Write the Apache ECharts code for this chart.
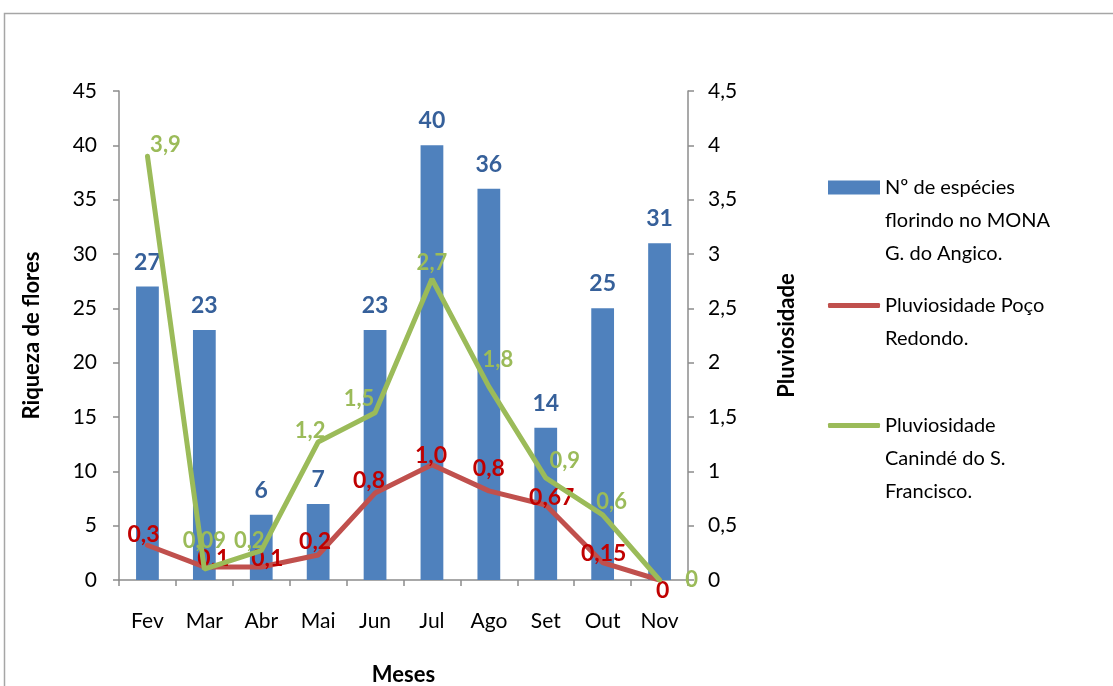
<!DOCTYPE html>
<html>
<head>
<meta charset="utf-8">
<script src="https://cdn.jsdelivr.net/npm/echarts@6/dist/echarts.min.js"></script>
<style>
html,body{margin:0;padding:0;background:#fff;}
#chart{width:1113px;height:686px;}
</style>
</head>
<body>
<div id="chart"></div>
<script>
// ---- data ----
const months = ['Fev','Mar','Abr','Mai','Jun','Jul','Ago','Set','Out','Nov'];
const especies = [27, 23, 6, 7, 23, 40, 36, 14, 25, 31];
const pocoRedondo = [0.32, 0.12, 0.12, 0.23, 0.80, 1.06, 0.82, 0.69, 0.16, 0];
const pocoRedondoLabels = ['0,3','0,1','0,1','0,2','0,8','1,0','0,8','0,67','0,15','0'];
const caninde = [3.9, 0.10, 0.27, 1.27, 1.54, 2.77, 1.78, 0.94, 0.60, 0];
const canindeLabels = ['3,9','0,09','0,2','1,2','1,5','2,7','1,8','0,9','0,6','0'];
const leftTicks = ['0','5','10','15','20','25','30','35','40','45'];
const rightTicks = ['0','0,5','1','1,5','2','2,5','3','3,5','4','4,5'];

const seriesNames = [
  'Nº de espécies florindo no MONA G. do Angico.',
  'Pluviosidade Poço Redondo.',
  'Pluviosidade Canindé do S. Francisco.'
];
const legendLines = [
  ['Nº de espécies', 'florindo no MONA', 'G. do Angico.'],
  ['Pluviosidade Poço', 'Redondo.'],
  ['Pluviosidade', 'Canindé do S.', 'Francisco.']
];

// label offsets (styling only)
const redOffsets = [[-4,-11],[9,-8],[6,-8],[-3,-13],[-6,-12],[-1,-9],[0,-22],[6,-7],[1,-9],[3,11]];
const greenOffsets = [[18,-11],[0,-28],[-12,-10],[-8,-11],[-16,-14],[0,-16],[9,-27],[19,-17],[9,-13],[32,0]];

const FONT = 'Lato, "Open Sans", sans-serif';
const axisGray = '#8C8C8C';

function lineData(vals, labels, offs, color, size){
  return vals.map((v,i)=>({
    value: v,
    label: {
      show: true,
      position: 'inside',
      offset: offs[i],
      formatter: labels[i],
      color: color,
      fontWeight: 'bold',
      fontSize: size,
      fontFamily: FONT
    }
  }));
}

function legendFor(idx, iconY){
  const lines = legendLines[idx];
  const n = lines.length;
  // pad with empty lines on top so the first line sits beside the icon
  const text = new Array(n - 1).fill('').concat(lines).join('\n');
  const boxH = (2 * n - 1) * 33;
  const isBar = idx === 0;
  return {
    data: [seriesNames[idx]],
    orient: 'vertical',
    left: 823,
    top: Math.round(iconY - boxH / 2 - 5),
    itemWidth: 52,
    itemHeight: isBar ? 14 : 5,
    icon: isBar ? 'rect' : 'roundRect',
    formatter: () => text,
    textStyle: {
      fontFamily: FONT,
      fontSize: 20,
      color: '#000',
      lineHeight: 33
    }
  };
}

const chart = echarts.init(document.getElementById('chart'), null, {renderer:'canvas'});
chart.setOption({
  animation: false,
  backgroundColor: '#fff',
  textStyle: { fontFamily: FONT },
  graphic: [{
    type: 'rect',
    shape: { x: 4.5, y: 13.5, width: 1200, height: 800 },
    style: { fill: 'none', stroke: '#A6A6A6', lineWidth: 1.5 },
    silent: true
  }],
  grid: { left: 119, right: 425, top: 91, bottom: 106, containLabel: false, outerBoundsMode: 'none' },
  legend: [
    legendFor(0, 187),
    legendFor(1, 305),
    legendFor(2, 425)
  ],
  xAxis: {
    type: 'category',
    data: months,
    name: 'Meses',
    nameLocation: 'middle',
    nameGap: 84,
    nameTextStyle: { fontFamily: FONT, fontSize: 22, fontWeight: 'bold', color: '#000' },
    axisLine: { lineStyle: { color: axisGray, width: 1.5 } },
    axisTick: { show: true, alignWithLabel: false, length: 6, lineStyle: { color: axisGray, width: 1.5 } },
    axisLabel: { fontFamily: FONT, fontSize: 21, color: '#000', margin: 31 }
  },
  yAxis: [{
    type: 'value',
    min: 0, max: 45, interval: 5,
    name: 'Riqueza de flores',
    nameLocation: 'middle',
    nameGap: 76,
    nameRotate: 90,
    nameTextStyle: { fontFamily: FONT, fontSize: 22, fontWeight: 'bold', color: '#000' },
    axisLine: { show: true, lineStyle: { color: axisGray, width: 1.5 } },
    axisTick: { show: true, length: 6, lineStyle: { color: axisGray, width: 1.5 } },
    splitLine: { show: false },
    axisLabel: { fontFamily: FONT, fontSize: 21, color: '#000', margin: 22,
      formatter: v => leftTicks[Math.round(v / 5)] }
  },{
    type: 'value',
    min: 0, max: 4.5, interval: 0.5,
    position: 'right',
    name: 'Pluviosidade',
    nameLocation: 'middle',
    nameGap: 88,
    nameRotate: 90,
    nameTextStyle: { fontFamily: FONT, fontSize: 22, fontWeight: 'bold', color: '#000' },
    axisLine: { show: true, lineStyle: { color: axisGray, width: 1.5 } },
    axisTick: { show: true, length: 6, lineStyle: { color: axisGray, width: 1.5 } },
    splitLine: { show: false },
    axisLabel: { fontFamily: FONT, fontSize: 21, color: '#000', margin: 20, align: 'left',
      formatter: v => rightTicks[Math.round(v / 0.5)] }
  }],
  series: [{
    name: seriesNames[0],
    type: 'bar',
    yAxisIndex: 0,
    data: especies,
    barWidth: '40%',
    itemStyle: { color: '#4F81BD' },
    label: {
      show: true, position: 'top', distance: 13,
      color: '#36609A', fontWeight: 'bold', fontSize: 23, fontFamily: FONT
    }
  },{
    name: seriesNames[1],
    type: 'line',
    yAxisIndex: 1,
    data: lineData(pocoRedondo, pocoRedondoLabels, redOffsets, '#C00000', 23),
    symbol: 'circle',
    symbolSize: 1,
    showSymbol: true,
    itemStyle: { color: '#C0504D' },
    lineStyle: { color: '#C0504D', width: 5, cap: 'round' },
    z: 3
  },{
    name: seriesNames[2],
    type: 'line',
    yAxisIndex: 1,
    data: lineData(caninde, canindeLabels, greenOffsets, '#9BBB59', 22),
    symbol: 'circle',
    symbolSize: 1,
    showSymbol: true,
    itemStyle: { color: '#9BBB59' },
    lineStyle: { color: '#9BBB59', width: 5, cap: 'round' },
    z: 4
  }]
});
</script>
</body>
</html>
